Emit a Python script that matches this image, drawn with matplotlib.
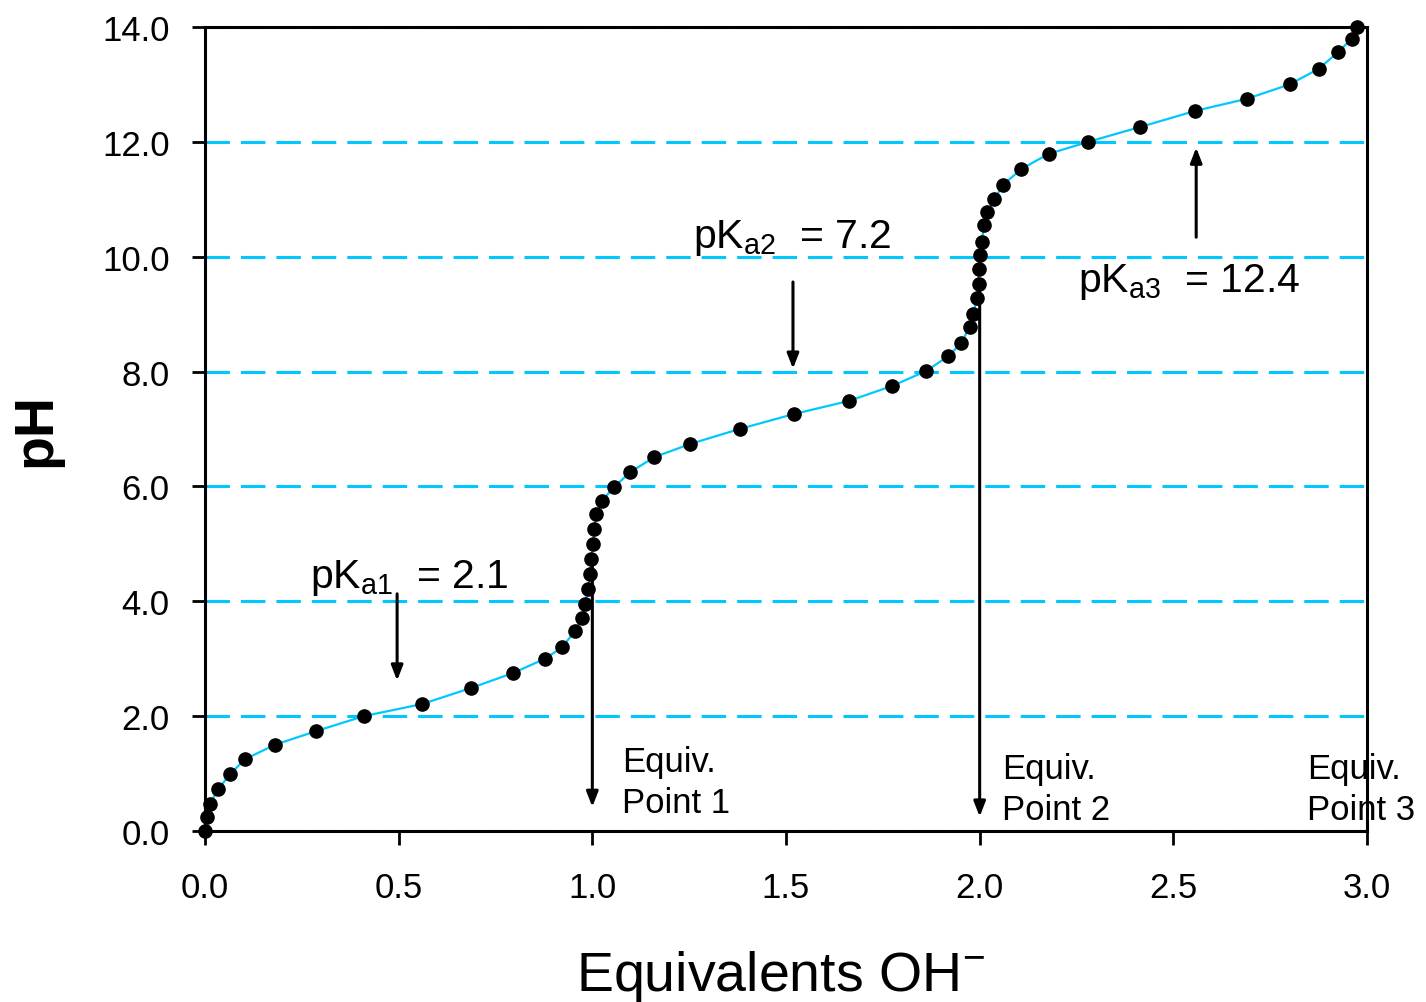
import matplotlib
matplotlib.use("Agg")
import matplotlib.pyplot as plt

plt.rcParams['font.family'] = ['Liberation Sans', 'DejaVu Sans']
plt.rcParams['mathtext.fontset'] = 'custom'
plt.rcParams['mathtext.rm'] = 'Liberation Sans'
plt.rcParams['mathtext.it'] = 'Liberation Sans'

# titration data
equiv = [0.0, 0.005, 0.013, 0.034, 0.065, 0.103, 0.18, 0.287, 0.41, 0.56,
         0.687, 0.795, 0.878, 0.922, 0.955, 0.973, 0.981, 0.989, 0.994, 0.997,
         1.002, 1.005, 1.01, 1.025, 1.056, 1.098, 1.16, 1.253, 1.38, 1.52,
         1.663, 1.774, 1.862, 1.919, 1.953, 1.974, 1.984, 1.992, 1.997, 1.997,
         2.0, 2.005, 2.012, 2.02, 2.038, 2.06, 2.108, 2.178, 2.28, 2.415,
         2.557, 2.69, 2.80, 2.875, 2.925, 2.96, 2.975]
ph = [0.0, 0.25, 0.47, 0.73, 0.99, 1.25, 1.5, 1.74, 2.0, 2.21,
      2.49, 2.75, 3.0, 3.2, 3.48, 3.71, 3.95, 4.21, 4.47, 4.74,
      5.0, 5.26, 5.52, 5.75, 5.99, 6.25, 6.51, 6.74, 7.0, 7.26,
      7.49, 7.75, 8.01, 8.27, 8.5, 8.78, 9.0, 9.28, 9.52, 9.79,
      10.03, 10.26, 10.55, 10.78, 11.0, 11.25, 11.53, 11.79, 12.0, 12.26,
      12.54, 12.75, 13.0, 13.27, 13.56, 13.79, 14.0]

xticks = [0.0, 0.5, 1.0, 1.5, 2.0, 2.5, 3.0]
yticks = [0.0, 2.0, 4.0, 6.0, 8.0, 10.0, 12.0, 14.0]

# pKa labels: text, text x, text baseline y, arrow x, arrow start y, arrow end y
pka_labels = [r'pK$_{\mathrm{a1}}$  = 2.1', r'pK$_{\mathrm{a2}}$  = 7.2', r'pK$_{\mathrm{a3}}$  = 12.4']
pka_text_x = [0.271, 1.26, 2.254]
pka_text_y = [4.25, 10.17, 9.40]
pka_arrow_x = [0.496, 1.518, 2.559]
pka_arrow_from = [4.13, 9.56, 10.34]
pka_arrow_to = [2.62, 8.05, 11.9]

# equivalence points
eq_labels = ['Equiv.\nPoint 1', 'Equiv.\nPoint 2', 'Equiv.\nPoint 3']
eq_text_x = [1.077, 2.058, 2.846]
eq_text_y = [0.33, 0.21, 0.21]
eq_arrow_x = [1.0, 2.0]
eq_arrow_from = [4.74, 9.52]
eq_arrow_to = [0.42, 0.25]

cyan = '#00C8FF'

fig = plt.figure(figsize=(14.26, 10.03), dpi=100)
ax = fig.add_axes([205/1426, 1 - 832/1003, 1162/1426, 804/1003])

ax.plot(equiv, ph, color=cyan, lw=1.6, zorder=3, clip_on=False)
ax.plot(equiv, ph, 'o', color='black', ms=9.5, zorder=4, clip_on=False)

ax.set_xlim(0, 3)
ax.set_ylim(0, 14)
ax.set_xticks(xticks)
ax.set_yticks(yticks)
ax.set_xticklabels(['%.1f' % v for v in xticks])
ax.set_yticklabels(['%.1f' % v for v in yticks])
ax.tick_params(axis='x', direction='out', length=10, width=2, labelsize=25, pad=19)
ax.tick_params(axis='y', direction='out', length=9.5, width=2, labelsize=25, pad=16)
for sp in ax.spines.values():
    sp.set_linewidth(2.2)

ax.yaxis.grid(True, color=cyan, lw=2.2, linestyle=(0, (8, 3.6)))
ax.set_axisbelow(True)

for i in range(len(pka_labels)):
    ax.text(pka_text_x[i], pka_text_y[i], pka_labels[i], fontsize=29.5, va='baseline', ha='left')
    ax.annotate('', xy=(pka_arrow_x[i], pka_arrow_to[i]), xytext=(pka_arrow_x[i], pka_arrow_from[i]),
                arrowprops=dict(arrowstyle='-|>,head_length=0.9,head_width=0.35', color='black',
                                lw=2.2, shrinkA=0, shrinkB=0), zorder=5)

for i in range(len(eq_labels)):
    ax.text(eq_text_x[i], eq_text_y[i], eq_labels[i], fontsize=25, va='baseline', ha='left',
            linespacing=1.3, clip_on=False)
for i in range(len(eq_arrow_x)):
    ax.annotate('', xy=(eq_arrow_x[i], eq_arrow_to[i]), xytext=(eq_arrow_x[i], eq_arrow_from[i]),
                arrowprops=dict(arrowstyle='-|>,head_length=0.9,head_width=0.35', color='black',
                                lw=2.2, shrinkA=0, shrinkB=0), zorder=5)

ax.set_xlabel(r'Equivalents OH$^{-}$', fontsize=40)
ax.xaxis.set_label_coords(0.495, -0.145)
ax.set_ylabel('pH', fontsize=40, fontweight='bold')
ax.yaxis.set_label_coords(-0.123, 0.5)

fig.savefig('out.png', dpi=100)
